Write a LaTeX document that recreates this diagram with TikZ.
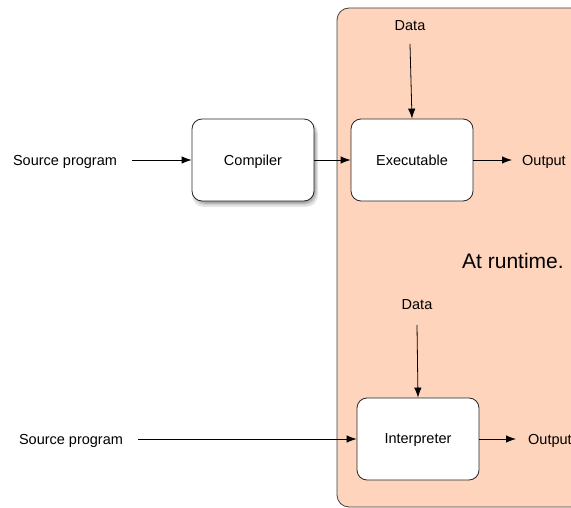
\documentclass[tikz,border=0pt]{standalone}
\usepackage{fontspec}
\setmainfont{Liberation Sans}
\usetikzlibrary{arrows.meta,shadows}
\definecolor{peach}{RGB}{254,212,188}
\tikzset{
  proc/.style={draw=black!85, line width=0.8pt, fill=white, rounded corners=10pt, minimum width=122pt, minimum height=82pt, inner sep=0pt, text depth=0pt, font=\fontsize{14.5}{16}\selectfont},
  lbl/.style={inner sep=0pt, text depth=0pt, font=\fontsize{14.5}{16}\selectfont},
  arr/.style={line width=0.8pt, -{Latex[length=10pt,width=7.5pt]}},
  shad/.style={fill=black, opacity=0.10, rounded corners=12pt},
}
\begin{document}
\begin{tikzpicture}[x=1pt,y=-1pt]
\useasboundingbox (0,0) rectangle (571,508);
\begin{scope}
\clip (0,0) rectangle (571,508);
\draw[fill=peach, draw=black!75, line width=0.8pt, rounded corners=12pt] (337,8) rectangle (600,507);
\end{scope}
% soft shadow of the compiler box
\fill[shad] (192,121) rectangle (318,207);
\fill[shad] (193,122) rectangle (317,205);
\fill[shad] (194,123) rectangle (316,204);
\fill[shad] (195,124) rectangle (315,203);
\node[proc] (comp) at (253,160) {Compiler};
\node[proc] (exe) at (412,160) {Executable};
\node[proc] (interp) at (418,439) {Interpreter};
\node[lbl] (src1) at (65,160) {Source program};
\node[lbl] (src2) at (71,439) {Source program};
\node[lbl] (data1) at (410,26) {Data};
\node[lbl] (data2) at (417,305) {Data};
\node[lbl, anchor=west] (out1) at (522,160) {Output};
\node[lbl, anchor=west] (out2) at (528,439) {Output};
\node[inner sep=0pt, text depth=0pt, font=\fontsize{21}{24}\selectfont] (rt) at (513,261) {At runtime.};
\draw[arr] (132,160) -- (comp.west);
\draw[arr] (comp.east) -- (exe.west);
\draw[arr] (exe.east) -- ([xshift=-10pt]out1.west);
\draw[arr] (410,44) -- (exe.north);
\draw[arr] (138,439) -- (interp.west);
\draw[arr] (417,325) -- (interp.north);
\draw[arr] (interp.east) -- ([xshift=-12pt]out2.west);
\end{tikzpicture}
\end{document}
